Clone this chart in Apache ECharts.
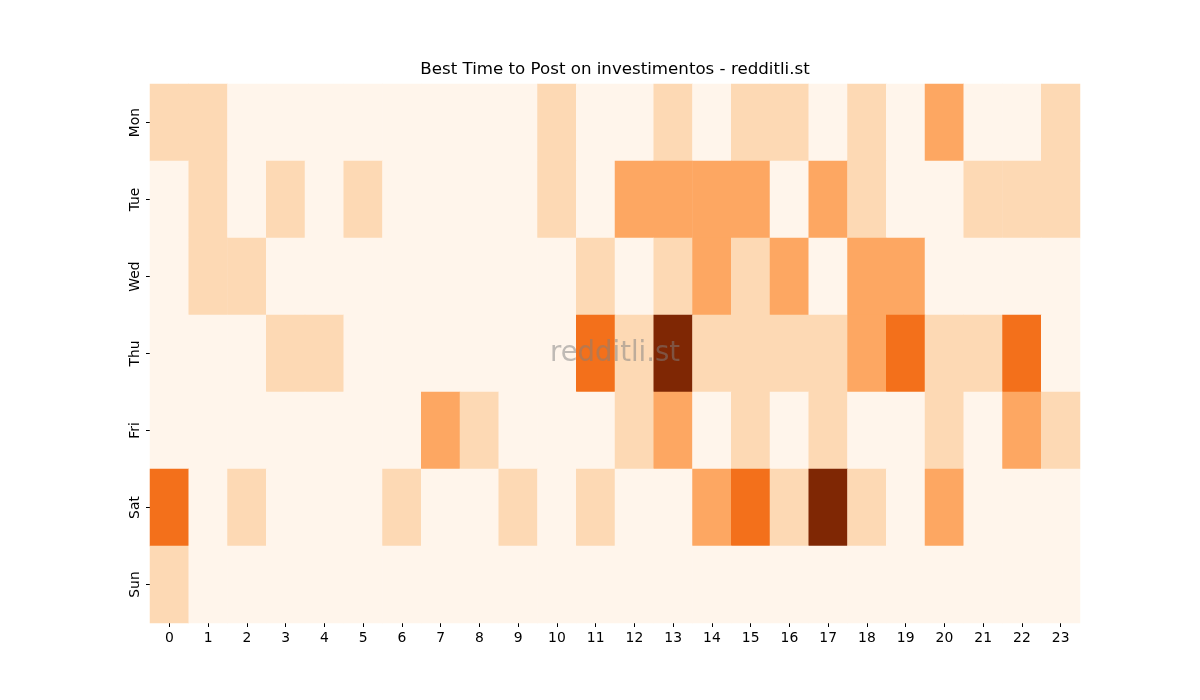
<!DOCTYPE html>
<html><head><meta charset="utf-8">
<script src="https://cdn.jsdelivr.net/npm/echarts@6/dist/echarts.min.js"></script>
<style>html,body{margin:0;padding:0;background:#fff}#c{width:1200px;height:700px}</style>
</head><body><div id="c"></div>
<script>
const hours = ['0','1','2','3','4','5','6','7','8','9','10','11','12','13','14','15','16','17','18','19','20','21','22','23'];
const days = ['Mon','Tue','Wed','Thu','Fri','Sat','Sun'];
const mon = [1,1,0,0,0,0,0,0,0,0,1,0,0,1,0,1,1,0,1,0,2,0,0,1];
const tue = [0,1,0,1,0,1,0,0,0,0,1,0,2,2,2,2,0,2,1,0,0,1,1,1];
const wed = [0,1,1,0,0,0,0,0,0,0,0,1,0,1,2,1,2,0,2,2,0,0,0,0];
const thu = [0,0,0,1,1,0,0,0,0,0,0,3,1,5,1,1,1,1,2,3,1,1,3,0];
const fri = [0,0,0,0,0,0,0,2,1,0,0,0,1,2,0,1,0,1,0,0,1,0,2,1];
const sat = [3,0,1,0,0,0,1,0,0,1,0,1,0,0,2,3,1,5,1,0,2,0,0,0];
const sun = [1,0,0,0,0,0,0,0,0,0,0,0,0,0,0,0,0,0,0,0,0,0,0,0];
const rows = [mon,tue,wed,thu,fri,sat,sun];
const titleText = 'Best Time to Post on investimentos - redditli.st';
const watermark = 'redditli.st';
const data = [];
rows.forEach((r, yi) => r.forEach((v, xi) => data.push([xi, yi, v])));
const oranges = ['#fff5eb','#fee6ce','#fdd0a2','#fdae6b','#fd8d3c','#f16913','#d94801','#a63603','#7f2704'];
const font = 'DejaVu Sans';
const chart = echarts.init(document.getElementById('c'));
chart.setOption({
  animation: false,
  backgroundColor: '#fff',
  grid: { left: 150, right: 120, top: 84, bottom: 77 },
  xAxis: { type: 'category', data: hours, axisLine: { show: false },
    axisTick: { show: true, alignWithLabel: true, length: 4, lineStyle: { color: '#000' } },
    axisLabel: { fontFamily: font, fontSize: 13.9, color: '#000', margin: 8 }, splitArea: { show: false } },
  yAxis: { type: 'category', data: days, inverse: true, axisLine: { show: false },
    axisTick: { show: true, alignWithLabel: true, length: 4, lineStyle: { color: '#000' } },
    axisLabel: { fontFamily: font, fontSize: 13.9, color: '#000', rotate: 90, margin: 8 } },
  visualMap: { show: false, min: 0, max: 5, calculable: false, inRange: { color: oranges } },
  series: [{ type: 'heatmap', data: data, itemStyle: { borderWidth: 0 }, emphasis: { disabled: true } }],
  graphic: [
    { type: 'text', z: 100,
      style: { text: titleText, x: 615, y: 70, textAlign: 'center', textVerticalAlign: 'middle',
        font: '16.67px "DejaVu Sans"', fill: '#000' } },
    { type: 'text', z: 100,
      style: { text: watermark, x: 615, y: 354, textAlign: 'center', textVerticalAlign: 'middle',
        font: '27.5px "DejaVu Sans"', fill: 'rgba(128,128,128,0.5)' } }]
});
</script></body></html>
